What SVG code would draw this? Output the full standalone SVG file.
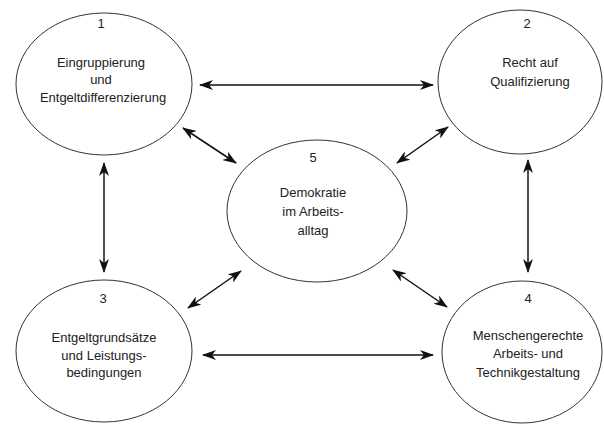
<svg xmlns="http://www.w3.org/2000/svg" width="604" height="424" viewBox="0 0 604 424">
<style>
.node ellipse{fill:#fff;stroke:#333;stroke-width:1}
.node text{font-family:"Liberation Sans",Arial,sans-serif;font-size:13px;fill:#222;text-anchor:middle}
.conn line{stroke:#111;stroke-width:1.5;marker-start:url(#arr);marker-end:url(#arr)}
</style>
<defs>
<marker id="arr" viewBox="0 0 14 10" refX="13" refY="5" markerWidth="14" markerHeight="10" markerUnits="userSpaceOnUse" orient="auto-start-reverse">
<path d="M0,0 L14,5 L0,10 L4,5 z" fill="#111"/>
</marker>
</defs>
<rect width="604" height="424" fill="#fff"/>
<g id="n1" class="node">
<ellipse cx="104" cy="84" rx="88" ry="71"/>
<text x="101" y="28">1</text>
<text x="101" y="67">Eingruppierung</text>
<text x="101" y="84">und</text>
<text x="103" y="102">Entgeltdifferenzierung</text>
</g>
<g id="n2" class="node">
<ellipse cx="520" cy="82" rx="82" ry="72"/>
<text x="527" y="28">2</text>
<text x="530" y="67">Recht auf</text>
<text x="530" y="86">Qualifizierung</text>
</g>
<g id="n3" class="node">
<ellipse cx="104" cy="351" rx="88" ry="71"/>
<text x="103" y="303">3</text>
<text x="104" y="342">Entgeltgrundsätze</text>
<text x="104" y="360">und Leistungs-</text>
<text x="104" y="377">bedingungen</text>
</g>
<g id="n4" class="node">
<ellipse cx="522" cy="352" rx="80" ry="71"/>
<text x="528" y="303">4</text>
<text x="528" y="340">Menschengerechte</text>
<text x="528" y="358">Arbeits- und</text>
<text x="528" y="377">Technikgestaltung</text>
</g>
<g id="n5" class="node">
<ellipse cx="317" cy="211" rx="90" ry="71"/>
<text x="313" y="162">5</text>
<text x="313" y="197">Demokratie</text>
<text x="313" y="216">im Arbeits-</text>
<text x="313" y="235">alltag</text>
</g>
<g id="connectors" class="conn">
<line x1="200" y1="85" x2="433" y2="85"/>
<line x1="104" y1="163" x2="104" y2="272"/>
<line x1="528" y1="160" x2="528" y2="272"/>
<line x1="203" y1="355" x2="433" y2="355"/>
<line x1="183" y1="128" x2="236" y2="163"/>
<line x1="448" y1="127" x2="397" y2="163"/>
<line x1="188" y1="308" x2="241" y2="271"/>
<line x1="393" y1="270" x2="447" y2="307"/>
</g>
</svg>
